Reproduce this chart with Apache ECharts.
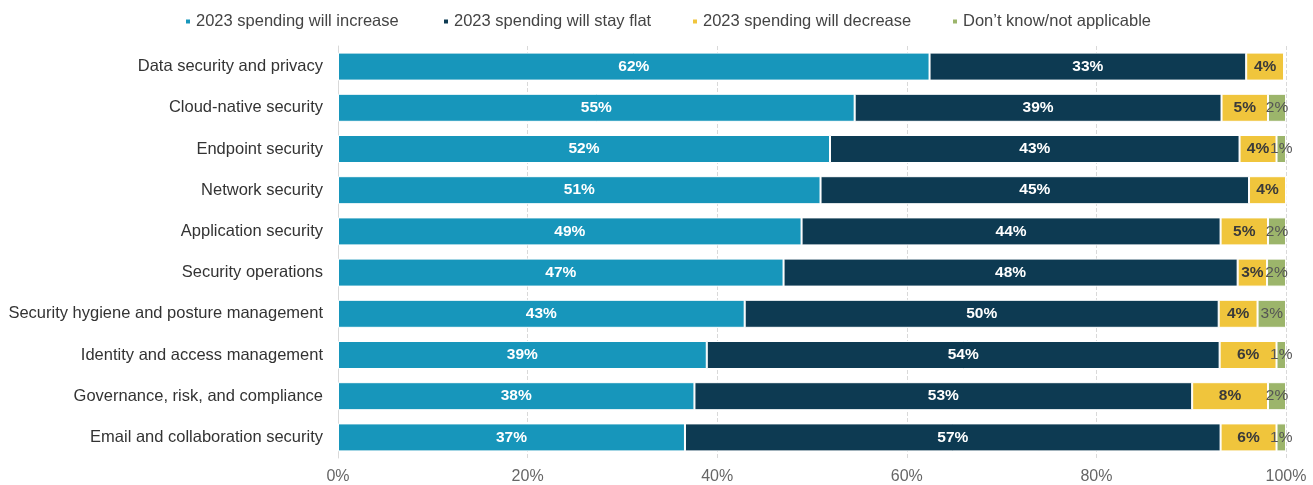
<!DOCTYPE html>
<html>
<head>
<meta charset="utf-8">
<script src="https://cdn.jsdelivr.net/npm/echarts@6/dist/echarts.min.js"></script>
<style>
  html, body { margin: 0; padding: 0; background: #fff; }
  #main { width: 1313px; height: 485px; }
</style>
</head>
<body>
<div id="main"></div>
<script>
// categories, top to bottom
const categories = [
  'Data security and privacy',
  'Cloud-native security',
  'Endpoint security',
  'Network security',
  'Application security',
  'Security operations',
  'Security hygiene and posture management',
  'Identity and access management',
  'Governance, risk, and compliance',
  'Email and collaboration security'
];
const increase = [62.4, 54.5, 51.9, 50.9, 48.9, 47.0, 42.9, 38.9, 37.6, 36.6];
const flat     = [33.4, 38.7, 43.2, 45.2, 44.2, 47.9, 50.0, 54.1, 52.5, 56.5];
const decrease = [4.0, 4.9, 3.9, 3.9, 5.0, 3.1, 4.1, 6.0, 8.0, 5.9];
const dontKnow = [0, 1.9, 1.0, 0, 1.9, 2.0, 3.0, 1.0, 1.9, 1.0];
const seriesNames = [
  '2023 spending will increase',
  '2023 spending will stay flat',
  '2023 spending will decrease',
  'Don\u2019t know/not applicable'
];
const colors = ['#1796BB', '#0D3A52', '#F0C53C', '#9CB56B'];

window.onload = function () {
  const dom = document.getElementById('main');
  const myChart = echarts.init(dom);

  function makeSeries(name, data, color, labelColor, bold) {
    return {
      name: name,
      type: 'bar',
      stack: 'total',
      barWidth: 28,
      data: data,
      itemStyle: { color: color, borderColor: '#fff', borderWidth: 1 },
      label: {
        show: true,
        position: 'inside',
        color: labelColor,
        fontSize: 15.5,
        fontWeight: bold ? 'bold' : 'normal',
        fontFamily: 'Liberation Sans',
        formatter: function (p) {
          return p.value > 0 ? Math.round(p.value) + '%' : '';
        }
      }
    };
  }

  // one legend per item so the spacing can follow the picture
  const legendLeft = [179, 437, 686, 946];
  const legends = seriesNames.map(function (n, i) {
    return {
      top: 8,
      left: legendLeft[i],
      itemWidth: 6,
      itemHeight: 6,
      icon: 'rect',
      textStyle: { color: '#444', fontSize: 16.5, fontFamily: 'Liberation Sans' },
      data: [n]
    };
  });

  const option = {
    animation: false,
    textStyle: { fontFamily: 'Liberation Sans' },
    legend: legends,
    grid: { left: 338, right: 27, top: 46, bottom: 27 },
    xAxis: {
      type: 'value',
      min: 0,
      max: 100,
      interval: 20,
      axisLabel: {
        formatter: '{value}%',
        color: '#666',
        fontSize: 16,
        margin: 11
      },
      splitLine: { lineStyle: { type: 'dashed', color: '#d9d9d9' } },
      axisLine: { show: false },
      axisTick: { show: false }
    },
    yAxis: {
      type: 'category',
      inverse: true,
      data: categories,
      axisLabel: { color: '#333', fontSize: 16.5, margin: 15 },
      axisLine: { show: true, lineStyle: { color: '#d9d9d9' } },
      axisTick: { show: false }
    },
    series: [
      makeSeries(seriesNames[0], increase, colors[0], '#fff', true),
      makeSeries(seriesNames[1], flat, colors[1], '#fff', true),
      makeSeries(seriesNames[2], decrease, colors[2], '#3a3a3a', true),
      makeSeries(seriesNames[3], dontKnow, colors[3], '#555', false)
    ]
  };
  myChart.setOption(option, true);
};
</script>
</body>
</html>
